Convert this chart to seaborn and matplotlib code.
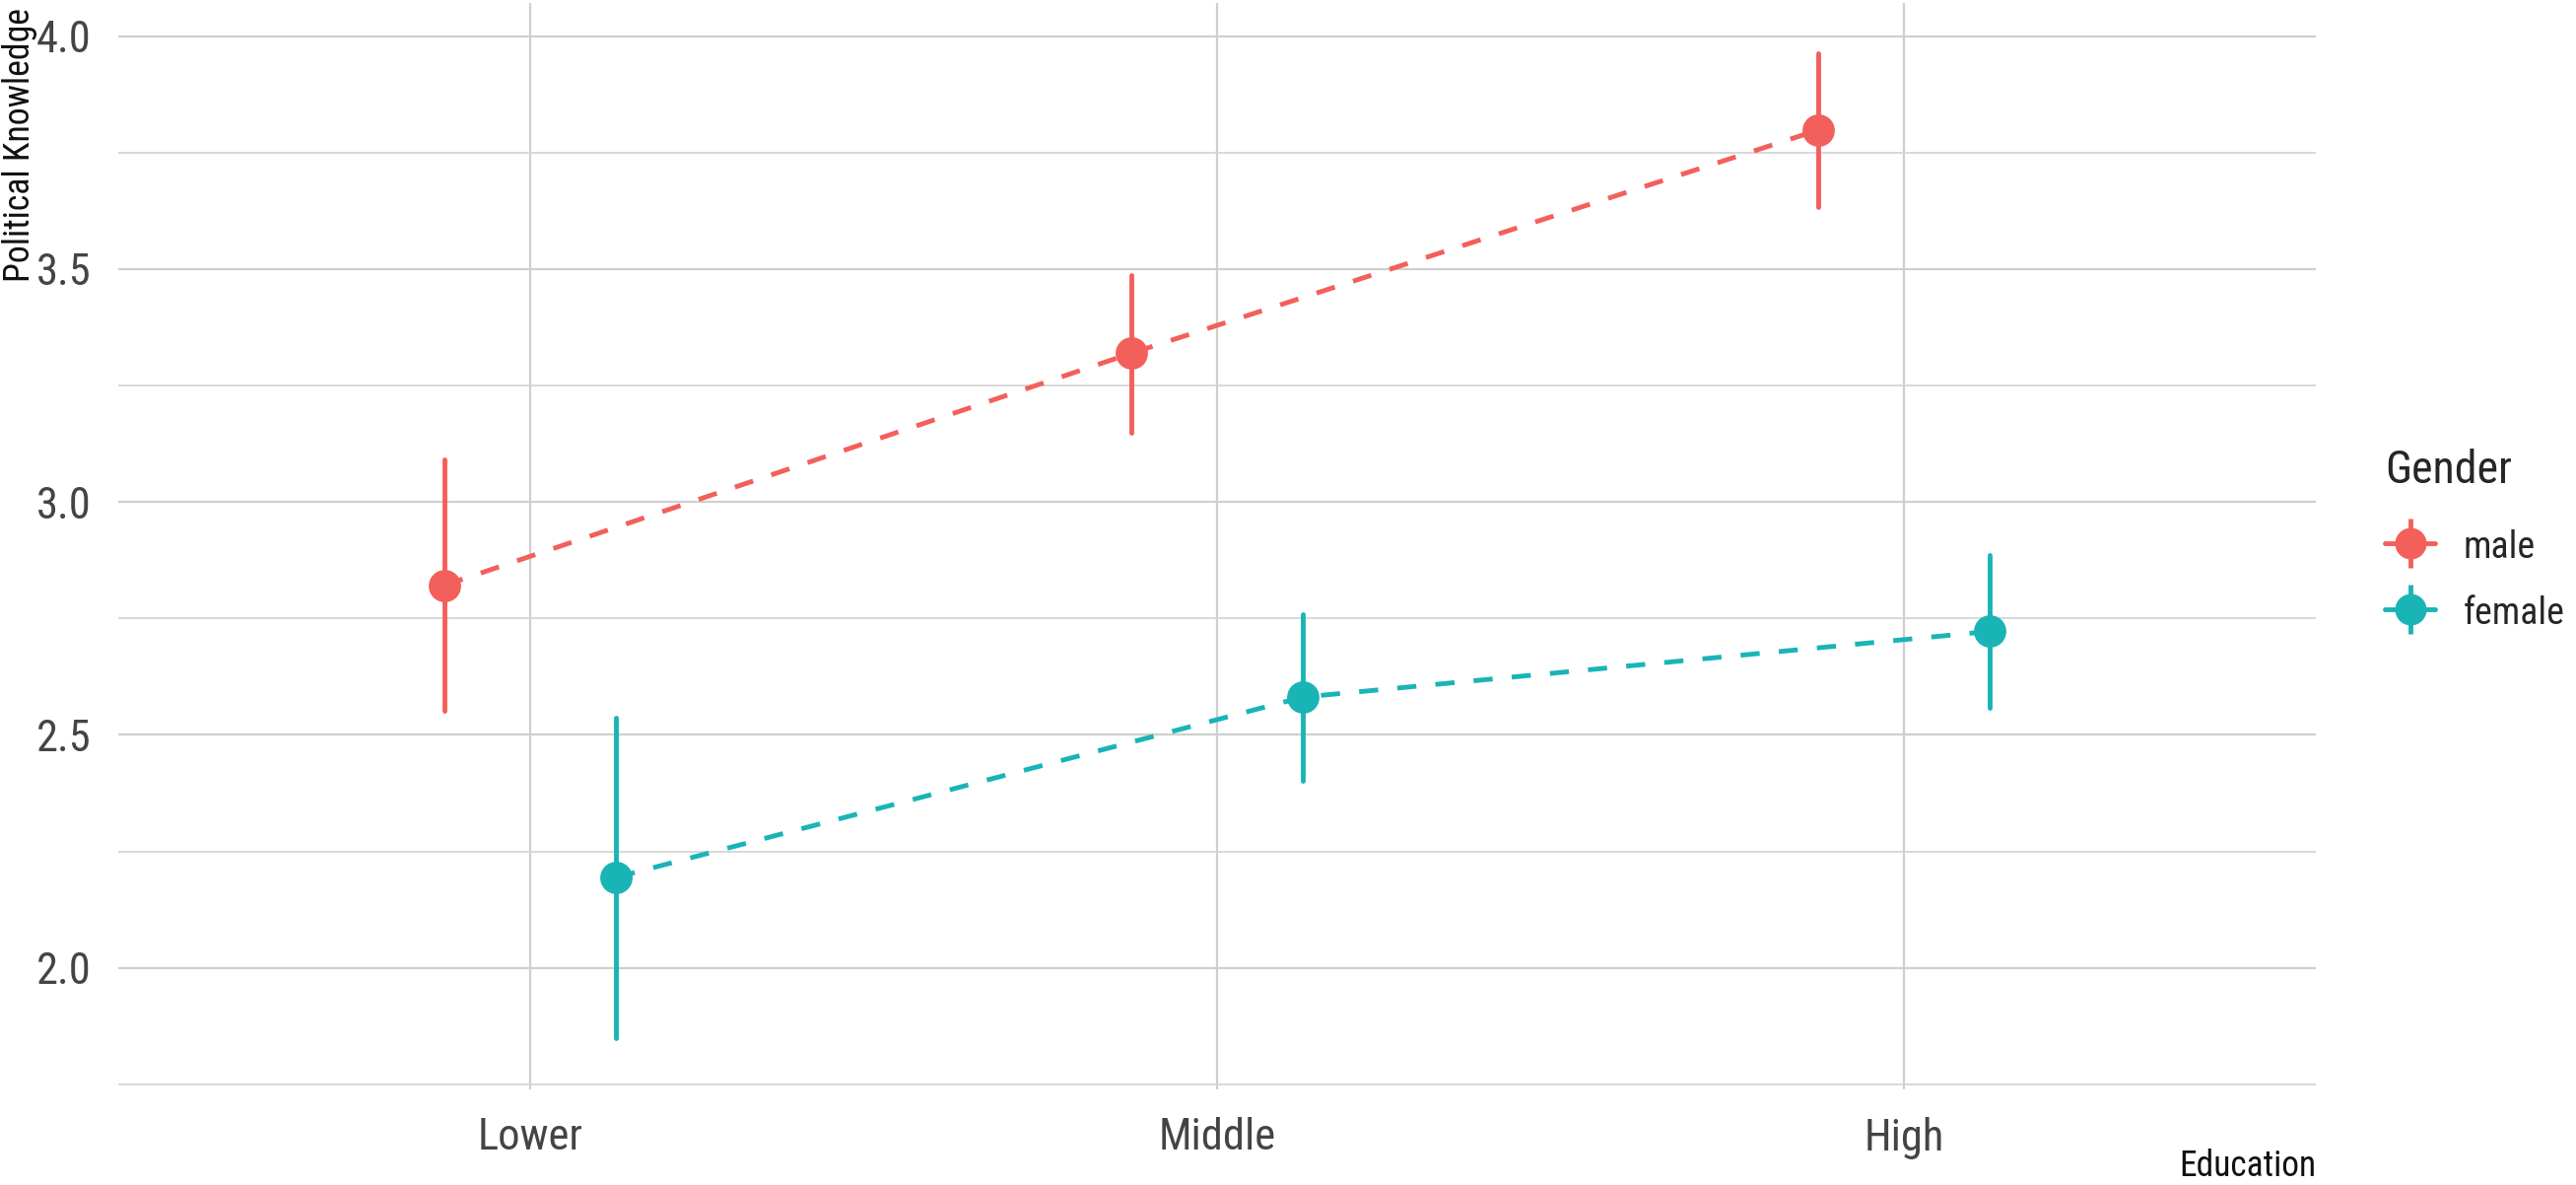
import matplotlib
matplotlib.use("Agg")
import matplotlib.pyplot as plt
from matplotlib import font_manager
from matplotlib.lines import Line2D
from matplotlib.legend_handler import HandlerTuple
from matplotlib.ticker import MultipleLocator
import numpy as np
import pandas as pd
import seaborn as sns

# Estimated political knowledge by education level and gender (mean with 95% interval)
education = ["Lower", "Middle", "High"]
genders = ["male", "female"]
male_mean = [2.821, 3.319, 3.798]
male_lower = [2.551, 3.149, 3.632]
male_upper = [3.091, 3.488, 3.964]
female_mean = [2.194, 2.581, 2.722]
female_lower = [1.850, 2.401, 2.557]
female_upper = [2.536, 2.759, 2.887]
palette = {"male": "#F35F5A", "female": "#19B4B6"}

sns.set_theme(style="whitegrid")
available = {f.name for f in font_manager.fontManager.ttflist}
family = next(f for f in ["Roboto Condensed", "Liberation Sans Narrow", "Roboto", "DejaVu Sans"]
              if f in available)
plt.rcParams["font.family"] = [family, "DejaVu Sans"]
plt.rcParams["lines.dashed_pattern"] = [4, 4]

LW = 1.75

# Each group carries its lower bound, estimate and upper bound; the median is the
# estimate and the min/max span is the interval.
rows = []
for g, m, lo, hi in [("male", male_mean, male_lower, male_upper),
                     ("female", female_mean, female_lower, female_upper)]:
    for i, edu in enumerate(education):
        for v in (lo[i], m[i], hi[i]):
            rows.append({"Education": edu, "Gender": g, "Political Knowledge": v})
df = pd.DataFrame(rows)

fig = plt.figure(figsize=(13.07, 6.01), dpi=200)
W, H = 2614, 1202
ax = fig.add_axes([120 / W, 1 - 1105 / H, (2350 - 120) / W, (1105 - 3) / H])

sns.pointplot(
    data=df, x="Education", y="Political Knowledge", hue="Gender",
    order=education, hue_order=genders, palette=palette,
    estimator="median", errorbar=lambda v: (np.min(v), np.max(v)),
    dodge=0.25, linestyles=["--", "--"], markers=["o", "o"],
    markersize=10.5, linewidth=LW,
    err_kws={"linewidth": LW, "linestyle": "-"},
    legend=False, ax=ax,
)

ax.set_xlim(-0.6, 2.6)
ax.set_ylim(1.739, 4.071)
ax.yaxis.set_major_locator(MultipleLocator(0.5))
ax.yaxis.set_minor_locator(MultipleLocator(0.25))
ax.grid(True, which="major", color="#cfcfcf", linewidth=0.8)
ax.grid(True, which="minor", axis="y", color="#d6d6d6", linewidth=0.65)
ax.grid(False, which="minor", axis="x")
for s in ax.spines.values():
    s.set_visible(False)
ax.set_facecolor("white")
ax.tick_params(axis="both", which="both", length=0, labelsize=16, colors="#444444", pad=10)
ax.set_yticks([2.0, 2.5, 3.0, 3.5, 4.0])
ax.set_yticklabels(["2.0", "2.5", "3.0", "3.5", "4.0"])

ax.set_xlabel("")
ax.set_ylabel("")
fig.text(20 / W, 1 - 8 / H, "Political Knowledge", rotation=90, ha="center", va="top",
         fontsize=12.9, color="#111111")
fig.text(2350 / W, 1 - 1183 / H, "Education", ha="right", va="center",
         fontsize=12.8, color="#111111")

handles = []
for g in genders:
    h_line = Line2D([], [], color=palette[g], linewidth=LW, linestyle="-")
    v_mark = Line2D([], [], color=palette[g], marker="|", markersize=18,
                    markeredgewidth=LW, linestyle="none")
    dot = Line2D([], [], color=palette[g], marker="o", markersize=10.5, linestyle="none")
    handles.append((h_line, v_mark, dot))
leg = fig.legend(handles, genders, title="Gender", loc="upper left",
                 bbox_to_anchor=(2420 / W, 1 - 455 / H), borderaxespad=0, borderpad=0,
                 frameon=False, fontsize=13.6, title_fontsize=16.5, handlelength=1.35,
                 handleheight=1.0, labelspacing=0.76, handletextpad=0.75,
                 handler_map={tuple: HandlerTuple(ndivide=1)})
leg._legend_box.align = "left"
leg._legend_box.sep = 13.5

fig.savefig("out.png", dpi=200, facecolor="white")
